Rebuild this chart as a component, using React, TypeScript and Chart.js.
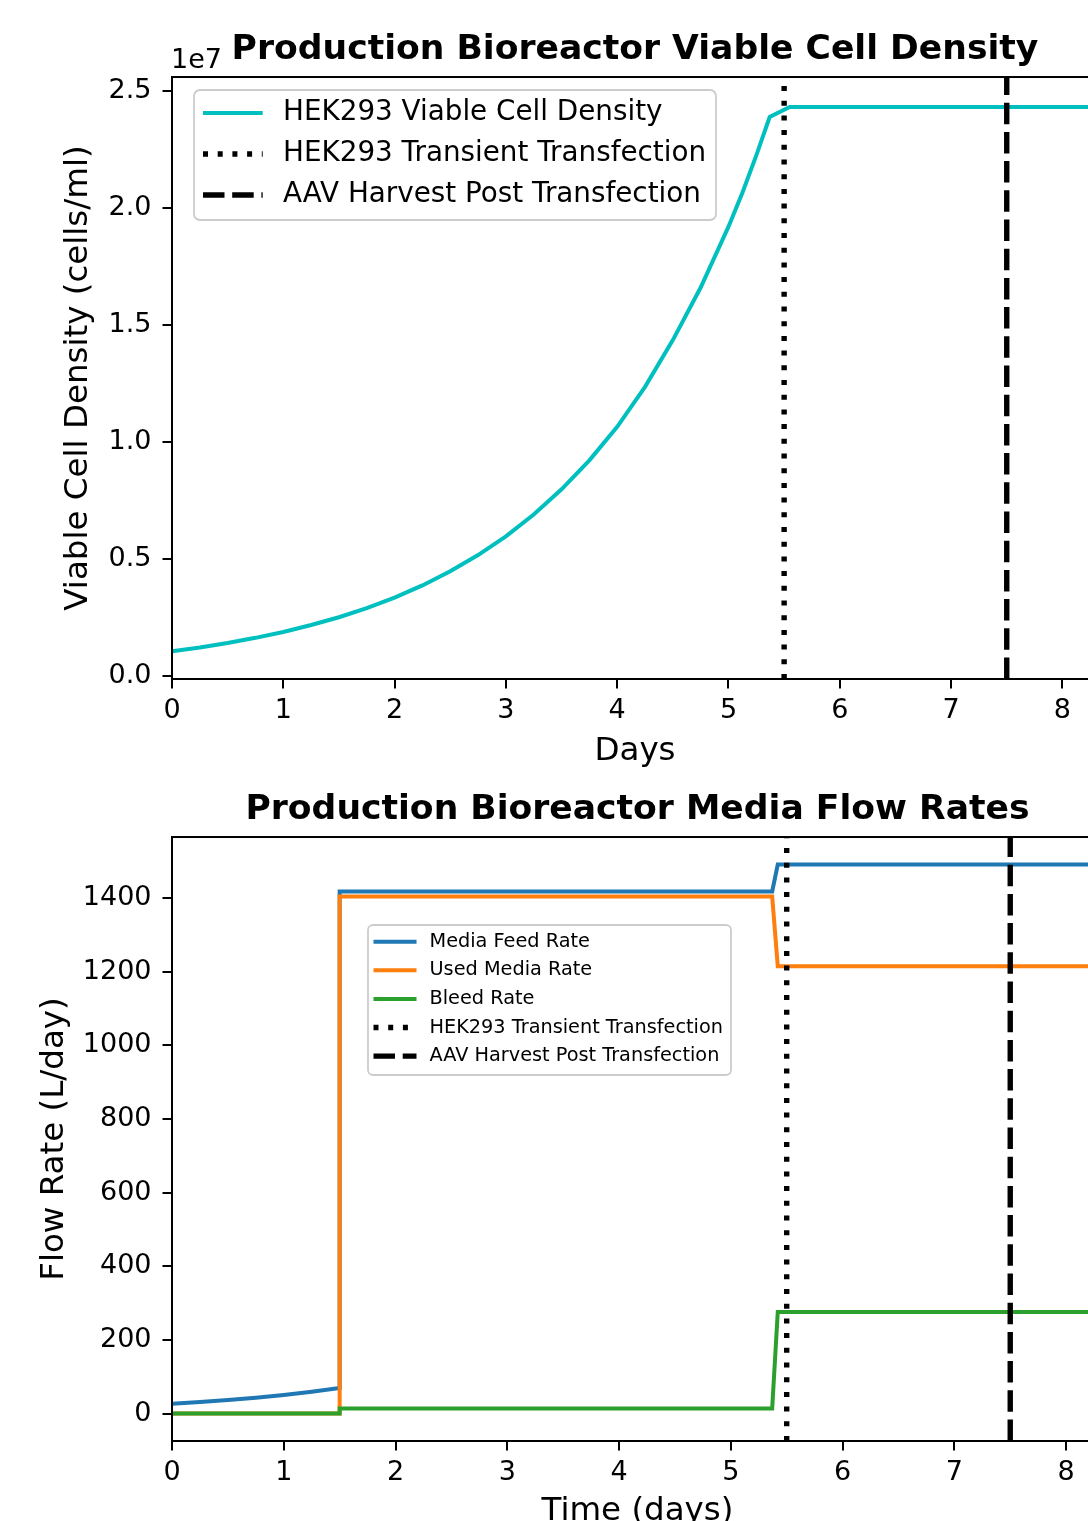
import React, { useEffect, useRef } from "react";
import { Chart, registerables } from "chart.js";

Chart.register(...registerables);

// ---------------- Data ----------------
// Top chart: viable cell density (in units of 1e7 cells/ml)
const VCD_DAYS = [
  0, 0.25, 0.5, 0.75, 1, 1.25, 1.5, 1.75, 2, 2.25, 2.5, 2.75, 3, 3.25, 3.5,
  3.75, 4, 4.25, 4.5, 4.75, 5, 5.125, 5.25, 5.37, 5.55, 8.32,
];
const VCD_VALUES = [
  0.105, 0.121, 0.14, 0.162, 0.187, 0.217, 0.25, 0.289, 0.334, 0.386, 0.447,
  0.516, 0.596, 0.689, 0.797, 0.921, 1.064, 1.235, 1.435, 1.66, 1.92, 2.065,
  2.225, 2.389, 2.432, 2.432,
];
const VCD_Y_TICKS = [0, 0.5, 1.0, 1.5, 2.0, 2.5];
const VCD_Y_MIN = -0.014;
const VCD_Y_MAX = 2.56;
const VCD_X_MAX = 8.32;
const DAY_TICKS = [0, 1, 2, 3, 4, 5, 6, 7, 8];
const TRANSFECTION_DAY = 5.5;
const HARVEST_DAY = 7.5;

// Bottom chart: media flow rates (L/day)
const FEED_DAYS = [0, 0.25, 0.5, 0.75, 1, 1.25, 1.5, 1.5, 5.37, 5.42, 8.33];
const FEED_RATE = [27, 31.6, 37, 43.3, 50.7, 59.3, 69.5, 1418, 1418, 1491, 1491];
const USED_DAYS = [0, 1.5, 1.5, 5.37, 5.42, 8.33];
const USED_RATE = [0, 0, 1404, 1404, 1215, 1215];
const BLEED_DAYS = [0, 1.5, 1.5, 5.37, 5.42, 8.33];
const BLEED_RATE = [0, 0, 14, 14, 276, 276];
const FLOW_Y_TICKS = [0, 200, 400, 600, 800, 1000, 1200, 1400];
const FLOW_Y_MIN = -74.4;
const FLOW_Y_MAX = 1565.6;
const FLOW_X_MAX = 8.33;

const TOP_TITLE = "Production Bioreactor Viable Cell Density";
const BOTTOM_TITLE = "Production Bioreactor Media Flow Rates";
const TOP_LEGEND_LABELS = [
  "HEK293 Viable Cell Density",
  "HEK293 Transient Transfection",
  "AAV Harvest Post Transfection",
];
const BOTTOM_LEGEND_LABELS = [
  "Media Feed Rate",
  "Used Media Rate",
  "Bleed Rate",
  "HEK293 Transient Transfection",
  "AAV Harvest Post Transfection",
];

// ---------------- Styles ----------------
const FONT = "DejaVu Sans";
const CYAN = "#00bfbf";
const BLUE = "#1f77b4";
const ORANGE = "#ff7f0e";
const GREEN = "#2ca02c";
const DOTTED = [5, 9.7];
const DASHED = [21.5, 7.7];
const LINE_W = 4;
const VLINE_W = 5.4;

const pts = (xs: number[], ys: number[]) => xs.map((x, i) => ({ x, y: ys[i] }));

// Spines + legend + offset text plugin
const mplDecor = {
  id: "mplDecor",
  afterDatasetsDraw(chart: any) {
    const { ctx, chartArea } = chart;
    ctx.save();
    ctx.strokeStyle = "#000";
    ctx.lineWidth = 2;
    ctx.strokeRect(chartArea.left, chartArea.top, chartArea.right - chartArea.left, chartArea.bottom - chartArea.top);
    ctx.restore();
  },
  afterDraw(chart: any, _args: any, opts: any) {
    const { ctx, chartArea } = chart;
    ctx.save();
    if (opts && opts.offsetText) {
      ctx.fillStyle = "#000";
      ctx.font = `27px "${FONT}"`;
      ctx.textAlign = "left";
      ctx.textBaseline = "alphabetic";
      ctx.fillText(opts.offsetText, chartArea.left - 1, chartArea.top - 8.7);
    }
    const lg = opts && opts.legend;
    if (lg) {
      ctx.beginPath();
      if ((ctx as any).roundRect) (ctx as any).roundRect(lg.x, lg.y, lg.w, lg.h, lg.r);
      else ctx.rect(lg.x, lg.y, lg.w, lg.h);
      ctx.fillStyle = "rgba(255,255,255,0.8)";
      ctx.fill();
      ctx.strokeStyle = "#cccccc";
      ctx.lineWidth = 1.8;
      ctx.stroke();
      lg.items.forEach((it: any, i: number) => {
        const yy = lg.rowY0 + i * lg.rowGap;
        ctx.beginPath();
        ctx.setLineDash(it.dash || []);
        ctx.lineDashOffset = 0;
        ctx.lineCap = "butt";
        ctx.strokeStyle = it.color;
        ctx.lineWidth = it.width;
        ctx.moveTo(lg.sx0, yy);
        ctx.lineTo(lg.sx1, yy);
        ctx.stroke();
        ctx.setLineDash([]);
        ctx.fillStyle = "#000";
        ctx.font = `${lg.fontSize}px "${FONT}"`;
        ctx.textAlign = "left";
        ctx.textBaseline = "middle";
        ctx.fillText(it.label, lg.tx, yy);
      });
    }
    ctx.restore();
  },
};

function vline(x: number, yMin: number, yMax: number, dash: number[], order: number) {
  return {
    data: [{ x, y: yMin }, { x, y: yMax }],
    borderColor: "#000",
    borderWidth: VLINE_W,
    borderDash: dash,
    borderCapStyle: "butt",
    pointRadius: 0,
    fill: false,
    order,
  };
}

function scales(xMax: number, yMin: number, yMax: number, yTicks: number[], yFmt: (v: number) => string, xTitle: string, yTitle: string, xHeight: number, yTitlePad: number) {
  const grid = {
    drawOnChartArea: false,
    drawTicks: true,
    tickLength: 9.5,
    tickColor: "#000",
    tickWidth: 2,
    color: "#000",
    lineWidth: 2,
  };
  return {
    x: {
      type: "linear",
      min: 0,
      max: xMax,
      grid,
      border: { display: false },
      afterBuildTicks: (s: any) => {
        s.ticks = DAY_TICKS.map((value) => ({ value }));
      },
      afterFit: (s: any) => {
        s.height = xHeight;
      },
      ticks: {
        autoSkip: false,
        maxRotation: 0,
        padding: 6,
        color: "#000",
        font: { family: FONT, size: 27, lineHeight: 1.2 },
        callback: (v: any) => String(v),
      },
      title: {
        display: true,
        text: xTitle,
        color: "#000",
        font: { family: FONT, size: 32.5, lineHeight: 1.2 },
        padding: { top: 0, bottom: 18.5 },
      },
    },
    y: {
      type: "linear",
      min: yMin,
      max: yMax,
      grid,
      border: { display: false },
      afterBuildTicks: (s: any) => {
        s.ticks = yTicks.map((value) => ({ value }));
      },
      afterFit: (s: any) => {
        s.width = 172;
      },
      ticks: {
        autoSkip: false,
        padding: 11,
        color: "#000",
        font: { family: FONT, size: 27, lineHeight: 1.2 },
        callback: (v: any) => yFmt(Number(v)),
      },
      title: {
        display: true,
        text: yTitle,
        color: "#000",
        font: { family: FONT, size: 32.5, lineHeight: 1.2 },
        padding: { top: yTitlePad, bottom: 0 },
      },
    },
  };
}

function baseOptions(title: string, rightPad: number, sc: any, decor: any) {
  return {
    responsive: false,
    animation: false,
    devicePixelRatio: 1,
    events: [],
    layout: { padding: { left: 0, right: rightPad, top: 0, bottom: 0 } },
    plugins: {
      legend: { display: false },
      tooltip: { enabled: false },
      title: {
        display: true,
        text: title,
        fullSize: false,
        color: "#000",
        font: { family: FONT, size: 34.6, weight: "bold", lineHeight: 1.2 },
        padding: { top: 29.2, bottom: 6.3 },
      },
      mplDecor: decor,
    },
    scales: sc,
  };
}

const W = 1120;
const H = 790;

function topConfig(): any {
  return {
    type: "line",
    plugins: [mplDecor],
    data: {
      datasets: [
        {
          data: pts(VCD_DAYS, VCD_VALUES),
          borderColor: CYAN,
          borderWidth: LINE_W,
          pointRadius: 0,
          tension: 0,
          fill: false,
          order: 3,
        },
        vline(TRANSFECTION_DAY, VCD_Y_MIN, VCD_Y_MAX, DOTTED, 2),
        vline(HARVEST_DAY, VCD_Y_MIN, VCD_Y_MAX, DASHED, 1),
      ],
    },
    options: baseOptions(
      TOP_TITLE,
      W - 1098,
      scales(VCD_X_MAX, VCD_Y_MIN, VCD_Y_MAX, VCD_Y_TICKS, (v) => v.toFixed(1), "Days", "Viable Cell Density (cells/ml)", H - 679, 59.5),
      {
        offsetText: "1e7",
        legend: {
          x: 194, y: 90, w: 522, h: 130, r: 6,
          sx0: 203, sx1: 262.7, tx: 283, rowY0: 113, rowGap: 41, fontSize: 27.8,
          items: [
            { label: TOP_LEGEND_LABELS[0], color: CYAN, width: LINE_W, dash: [] },
            { label: TOP_LEGEND_LABELS[1], color: "#000", width: VLINE_W, dash: DOTTED },
            { label: TOP_LEGEND_LABELS[2], color: "#000", width: VLINE_W, dash: DASHED },
          ],
        },
      }
    ),
  };
}

function bottomConfig(): any {
  return {
    type: "line",
    plugins: [mplDecor],
    data: {
      datasets: [
        { data: pts(FEED_DAYS, FEED_RATE), borderColor: BLUE, borderWidth: LINE_W, pointRadius: 0, fill: false, order: 5 },
        { data: pts(USED_DAYS, USED_RATE), borderColor: ORANGE, borderWidth: LINE_W, pointRadius: 0, fill: false, order: 4 },
        { data: pts(BLEED_DAYS, BLEED_RATE), borderColor: GREEN, borderWidth: LINE_W, pointRadius: 0, fill: false, order: 3 },
        vline(TRANSFECTION_DAY, FLOW_Y_MIN, FLOW_Y_MAX, DOTTED, 2),
        vline(HARVEST_DAY, FLOW_Y_MIN, FLOW_Y_MAX, DASHED, 1),
      ],
    },
    options: baseOptions(
      BOTTOM_TITLE,
      W - 1103,
      scales(FLOW_X_MAX, FLOW_Y_MIN, FLOW_Y_MAX, FLOW_Y_TICKS, (v) => String(Math.round(v)), "Time (days)", "Flow Rate (L/day)", H - 681, 35.5),
      {
        legend: {
          x: 368, y: 165, w: 363, h: 150, r: 5,
          sx0: 373.5, sx1: 416.5, tx: 429.5, rowY0: 181.7, rowGap: 28.6, fontSize: 19.3,
          items: [
            { label: BOTTOM_LEGEND_LABELS[0], color: BLUE, width: LINE_W, dash: [] },
            { label: BOTTOM_LEGEND_LABELS[1], color: ORANGE, width: LINE_W, dash: [] },
            { label: BOTTOM_LEGEND_LABELS[2], color: GREEN, width: LINE_W, dash: [] },
            { label: BOTTOM_LEGEND_LABELS[3], color: "#000", width: VLINE_W, dash: DOTTED },
            { label: BOTTOM_LEGEND_LABELS[4], color: "#000", width: VLINE_W, dash: DASHED },
          ],
        },
      }
    ),
  };
}

function ChartCanvas({ make, top }: { make: () => any; top: number }) {
  const ref = useRef<HTMLCanvasElement>(null);
  useEffect(() => {
    if (!ref.current) return;
    const chart = new Chart(ref.current, make());
    return () => chart.destroy();
  }, []);
  return (
    <canvas
      ref={ref}
      width={W}
      height={H}
      style={{ position: "absolute", left: 0, top, width: W, height: H, display: "block" }}
    />
  );
}

export default function App() {
  return (
    <div
      style={{
        position: "absolute",
        left: 0,
        top: 0,
        width: 1088,
        height: 1521,
        overflow: "hidden",
        background: "#fff",
      }}
    >
      <ChartCanvas make={topConfig} top={0} />
      <ChartCanvas make={bottomConfig} top={760} />
    </div>
  );
}
